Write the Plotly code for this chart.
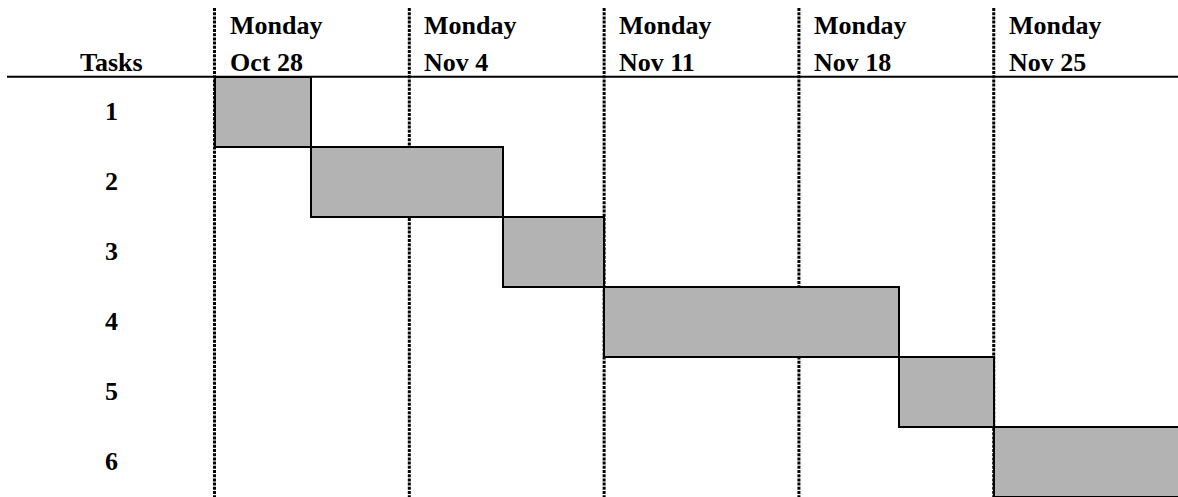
import plotly.graph_objects as go

# ---- data ----
tasks = [1, 2, 3, 4, 5, 6]
task_labels = ["1", "2", "3", "4", "5", "6"]
# start / end in days after Monday Oct 28
start_days = [0, 3.45, 10.35, 14, 24.6, 28]
end_days = [3.45, 10.35, 14, 24.6, 28, 35]
week_starts = [0, 7, 14, 21, 28]
week_day = "Monday"
week_dates = ["Oct 28", "Nov 4", "Nov 11", "Nov 18", "Nov 25"]
header_label = "Tasks"

W, H = 1178, 497
px_per_day = 27.83
x_origin_px = 214.5
row_px = 70.05
header_px = 76.7

durations = [e - s for s, e in zip(start_days, end_days)]

font = dict(family="Liberation Serif, Times New Roman, serif", size=26, color="black", weight="bold")

fig = go.Figure()
fig.add_trace(go.Bar(
    orientation="h",
    y=tasks,
    x=durations,
    base=start_days,
    width=1,
    marker=dict(color="#b3b3b3", line=dict(color="black", width=2)),
    hoverinfo="skip",
    showlegend=False,
))

shapes = []
for ws in week_starts:
    shapes.append(dict(type="line", xref="x", yref="paper", x0=ws, x1=ws,
                       y0=1 - 8 / H, y1=0, layer="below",
                       line=dict(color="black", width=3, dash="3px,1.2px")))
shapes.append(dict(type="line", xref="paper", yref="y", x0=7 / W, x1=1,
                   y0=0.5, y1=0.5, line=dict(color="black", width=2)))

annotations = []
col_x = 111 / W
annotations.append(dict(text=header_label, xref="paper", yref="paper", x=col_x,
                        y=1 - 62 / H, xanchor="center", yanchor="middle",
                        showarrow=False, font=font))
for t, lab in zip(tasks, task_labels):
    annotations.append(dict(text=lab, xref="paper", yref="y", x=col_x, y=t,
                            xanchor="center", yanchor="middle", showarrow=False, font=font))
for ws, d in zip(week_starts, week_dates):
    annotations.append(dict(text=week_day, xref="x", yref="paper", x=ws, xshift=13,
                            y=1 - 25 / H, xanchor="left", yanchor="middle",
                            showarrow=False, font=font))
    annotations.append(dict(text=d, xref="x", yref="paper", x=ws, xshift=13,
                            y=1 - 62 / H, xanchor="left", yanchor="middle",
                            showarrow=False, font=font))

fig.update_layout(
    width=W, height=H,
    margin=dict(l=0, r=0, t=0, b=0),
    paper_bgcolor="white", plot_bgcolor="white",
    xaxis=dict(range=[-x_origin_px / px_per_day, (W - x_origin_px) / px_per_day],
               visible=False, fixedrange=True),
    yaxis=dict(range=[6.5, 0.5 - header_px / row_px], visible=False, fixedrange=True),
    shapes=shapes, annotations=annotations,
    bargap=0,
)

fig.write_html("out.html", config={"displayModeBar": False},
               post_script="document.body.style.margin='0';document.body.style.overflow='hidden';")
